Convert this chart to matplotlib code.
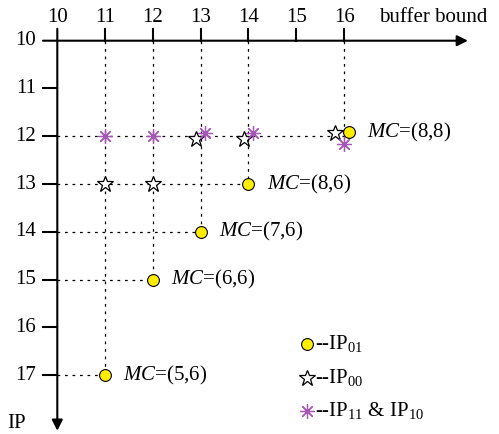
import matplotlib
matplotlib.use('Agg')
import matplotlib.pyplot as plt

plt.rcParams['font.family'] = 'Liberation Serif'
plt.rcParams['mathtext.fontset'] = 'custom'
plt.rcParams['mathtext.rm'] = 'Liberation Serif'
plt.rcParams['mathtext.it'] = 'Liberation Serif:italic'

# buffer bound (x) and IP (y) ticks
ticks_x = [10, 11, 12, 13, 14, 15, 16]
ticks_y = [10, 11, 12, 13, 14, 15, 16, 17]

# IP01 points (yellow circles) with their MC labels
ip01_x = [16.1, 14, 13, 12, 11]
ip01_y = [11.92, 13, 14, 15, 17]
mc_labels = ['(8,8)', '(8,6)', '(7,6)', '(6,6)', '(5,6)']

# IP00 points (hollow stars)
ip00_x = [11, 12, 12.9, 13.9, 15.8]
ip00_y = [13, 13, 12.05, 12.05, 11.93]

# IP11 & IP10 points (purple asterisks)
ip11_x = [11, 12, 13.1, 14.1, 16.0]
ip11_y = [12, 12, 11.93, 11.93, 12.17]

# dotted guide lines
guide_vx = [11, 12, 13, 14, 16]
guide_vend = [17, 15, 14, 13, 12]
guide_hy = [12, 13, 14, 15, 17]
guide_hend = [16, 14, 13, 12, 11]

ppu = 47.8
x0 = 10 - 57.3 / ppu
y0 = 10 - 40.7 / ppu

fig = plt.figure(figsize=(4.99, 4.34), dpi=100)
ax = fig.add_axes([0, 0, 1, 1])
ax.set_xlim(x0, x0 + 499 / ppu)
ax.set_ylim(y0 + 434 / ppu, y0)
ax.axis('off')

dots = (0, (2.2, 3.8))
for gx, ge in zip(guide_vx, guide_vend):
    ax.plot([gx, gx], [10, ge], color='k', lw=0.9, ls=dots, zorder=1)
for gy, ge in zip(guide_hy, guide_hend):
    ax.plot([10, ge], [gy, gy], color='k', lw=0.9, ls=dots, zorder=1)

# axes with arrows
ax.annotate('', xy=(18.59, 10), xytext=(9.70, 10),
            arrowprops=dict(arrowstyle='-|>', lw=1.5, color='k',
                            mutation_scale=16, shrinkA=0, shrinkB=0))
ax.annotate('', xy=(10, 18.16), xytext=(10, 9.75),
            arrowprops=dict(arrowstyle='-|>', lw=1.5, color='k',
                            mutation_scale=16, shrinkA=0, shrinkB=0))
for t in ticks_x[1:]:
    ax.plot([t, t], [9.75, 10], color='k', lw=1.5)
for t in ticks_y[1:]:
    ax.plot([9.70, 10], [t, t], color='k', lw=1.5)
fs = 15
for t in ticks_x:
    ax.text(t, 9.52, str(t), ha='center', va='center', fontsize=fs)
for t in ticks_y:
    ax.text(9.55, t, str(t), ha='right', va='center', fontsize=fs)
ax.text(16.72, 9.52, 'buffer bound', ha='left', va='center', fontsize=fs)
ax.text(9.14, 18.0, 'IP', ha='center', va='center', fontsize=fs)

# markers
star = dict(marker='*', ms=12, mfc='white', mec='k', mew=0.9)
aster = dict(marker=(8, 2, 0), ms=10.5, color='#a855b8', mew=0.9)
circ = dict(marker='o', ms=8.5, mfc='#ffee00', mec='k', mew=0.8)
ax.plot(ip00_x, ip00_y, ls='none', zorder=3, **star)
ax.plot(ip11_x, ip11_y, ls='none', zorder=4, **aster)
ax.plot(ip01_x, ip01_y, ls='none', zorder=5, **circ)

for px, py, lab in zip(ip01_x, ip01_y, mc_labels):
    ax.text(px + 0.38, py, r'$MC$=' + lab, ha='left', va='center', fontsize=fs)

# legend
leg_x = 15.22
ax.plot([leg_x], [16.34], **circ)
ax.plot([leg_x], [17.05], **star)
ax.plot([leg_x], [17.74], **aster)
ax.text(15.40, 16.34, r'--IP$_{01}$', ha='left', va='center', fontsize=fs)
ax.text(15.40, 17.05, r'--IP$_{00}$', ha='left', va='center', fontsize=fs)
ax.text(15.40, 17.74, r'--IP$_{11}$ & IP$_{10}$', ha='left', va='center', fontsize=fs)

fig.savefig('out.png', dpi=100)
